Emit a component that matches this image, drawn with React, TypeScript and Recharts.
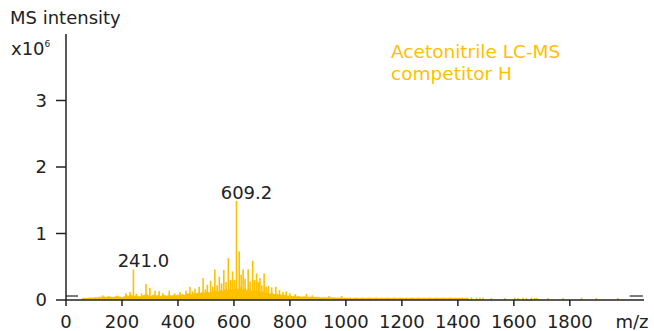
import React from 'react';
import { ComposedChart, Bar, Area, XAxis, YAxis, ReferenceLine, LabelList } from 'recharts';

const gold = '#FFC000';
const ink = '#222222';
const font = '"DejaVu Sans", Verdana, sans-serif';

// noise floor (x10^6), one value every 8 m/z starting at m/z 56
const floorStart = 56;
const floorStep = 8;
const floorLevel = [
  0.02, 0.03, 0.025, 0.03, 0.035, 0.03, 0.04, 0.035, 0.045, 0.04,
  0.05, 0.04, 0.055, 0.045, 0.04, 0.05, 0.06, 0.045, 0.04, 0.05,
  0.07, 0.06, 0.08, 0.05, 0.065, 0.055, 0.05, 0.06, 0.075, 0.09,
  0.065, 0.055, 0.08, 0.06, 0.07, 0.055, 0.065, 0.07, 0.06, 0.075,
  0.065, 0.07, 0.06, 0.08, 0.07, 0.085, 0.07, 0.09, 0.095, 0.08,
  0.1, 0.09, 0.11, 0.1, 0.12, 0.1, 0.12, 0.11, 0.13, 0.12,
  0.13, 0.12, 0.15, 0.13, 0.16, 0.14, 0.17, 0.15, 0.16, 0.18,
  0.16, 0.19, 0.15, 0.17, 0.14, 0.17, 0.13, 0.15, 0.12, 0.14,
  0.11, 0.13, 0.1, 0.11, 0.09, 0.1, 0.085, 0.09, 0.075, 0.08,
  0.07, 0.075, 0.06, 0.065, 0.055, 0.06, 0.05, 0.055, 0.045, 0.05,
  0.05, 0.045, 0.045, 0.04, 0.045, 0.04, 0.04, 0.035, 0.04, 0.035,
  0.035, 0.04, 0.035, 0.035, 0.03, 0.035, 0.03, 0.03, 0.03, 0.03,
  0.03, 0.025, 0.03, 0.03, 0.025, 0.03, 0.03, 0.025, 0.03, 0.03,
  0.025, 0.03, 0.03, 0.025, 0.03, 0.025, 0.03, 0.03, 0.025, 0.03,
  0.03, 0.025, 0.03, 0.03, 0.025, 0.03, 0.025, 0.03, 0.03, 0.025,
  0.03, 0.03, 0.025, 0.03, 0.025, 0.03, 0.03, 0.025, 0.03, 0.03,
  0.025, 0.03, 0.03, 0.025, 0.03, 0.03, 0.025, 0.03, 0.025, 0.03,
  0.03, 0.025, 0.03, 0.02,
];

// individual peaks
const peakMz = [
  131, 214, 229, 241, 252, 270, 286, 300, 318, 333, 346, 369, 388, 407, 429, 443, 452, 461,
  476, 490, 498, 505, 517, 524, 532, 540, 548, 556, 564, 572, 580, 588, 595, 602, 609.2,
  619, 626, 633, 640, 651, 658, 667, 674, 681, 687, 693, 700, 708, 715, 723, 735, 750, 763,
  775, 787, 800, 820, 859, 880, 940, 985,
  1449, 1467, 1479, 1490, 1520, 1568, 1604, 1615, 1633, 1645, 1663, 1675, 1683, 1722, 1776,
  1842, 1895, 1972,
];
const peakInt = [
  0.07, 0.1, 0.12, 0.46, 0.09, 0.1, 0.24, 0.18, 0.14, 0.13, 0.1, 0.14, 0.1, 0.12, 0.14, 0.2, 0.13, 0.17,
  0.2, 0.33, 0.16, 0.23, 0.29, 0.2, 0.46, 0.22, 0.35, 0.25, 0.45, 0.27, 0.63, 0.3, 0.43, 0.3, 1.49,
  0.73, 0.38, 0.46, 0.32, 0.46, 0.28, 0.59, 0.3, 0.4, 0.27, 0.33, 0.22, 0.4, 0.2, 0.21, 0.19, 0.2, 0.15,
  0.12, 0.13, 0.1, 0.09, 0.09, 0.07, 0.06, 0.06,
  0.04, 0.035, 0.035, 0.035, 0.03, 0.03, 0.035, 0.03, 0.035, 0.03, 0.035, 0.03, 0.03, 0.03, 0.03,
  0.035, 0.03, 0.03,
];
const annotatedMz = [241, 609.2];
const annotatedText = ['241.0', '609.2'];

const xTicks = [0, 200, 400, 600, 800, 1000, 1200, 1400, 1600, 1800];
const yTicks = [0, 1, 2, 3];

const floorData = floorLevel.map((v, i) => ({ fmz: floorStart + i * floorStep, v }));
const peakData = peakMz.map((mz, i) => {
  const a = annotatedMz.indexOf(mz);
  return { mz, v: peakInt[i], label: a >= 0 ? annotatedText[a] : '' };
});

const PeakLabel = (props: any) => {
  const { x, y, width, value } = props;
  if (!value) return null;
  return (
    <text x={Number(x) + Number(width) / 2 + 10} y={Number(y) - 2} textAnchor="middle"
      fontSize={18} fontFamily={font} fill={ink}>
      {value}
    </text>
  );
};

export default function App() {
  const axisStyle = { stroke: ink, strokeWidth: 1.5 };
  const tickStyle = { fontSize: 18, fontFamily: font, fill: ink };
  return (
    <div style={{ position: 'fixed', left: 0, top: 0, width: 654, height: 331, background: '#fff' }}>
      <ComposedChart width={654} height={331} data={peakData}
        margin={{ top: 34, right: 10, bottom: 0, left: 0 }}>
        <XAxis xAxisId="f" dataKey="fmz" type="number" domain={[0, 2065]} hide
          orientation="top" height={0} />
        <XAxis xAxisId="m" dataKey="mz" type="number" domain={[0, 2065]} ticks={xTicks}
          height={31} tickSize={6} tickMargin={9} axisLine={axisStyle} tickLine={axisStyle}
          tick={tickStyle} interval={0} />
        <YAxis type="number" domain={[0, 4]} ticks={yTicks} width={66} tickSize={10}
          tickMargin={9} axisLine={axisStyle} tickLine={axisStyle} tick={tickStyle} interval={0} />
        <Area xAxisId="f" data={floorData} dataKey="v" type="linear" stroke={gold}
          strokeWidth={0.6} fill={gold} fillOpacity={1} dot={false} activeDot={false}
          isAnimationActive={false} />
        <Bar xAxisId="m" dataKey="v" fill={gold} barSize={1.6} isAnimationActive={false}>
          <LabelList dataKey="label" content={PeakLabel} />
        </Bar>
        <ReferenceLine xAxisId="m" segment={[{ x: 0, y: 0.06 }, { x: 43, y: 0.06 }]}
          stroke={ink} strokeWidth={1.2} />
        <ReferenceLine xAxisId="m" segment={[{ x: 2014, y: 0.06 }, { x: 2061, y: 0.06 }]}
          stroke={ink} strokeWidth={1.2} />
      </ComposedChart>
      <svg width={654} height={331} style={{ position: 'absolute', left: 0, top: 0, pointerEvents: 'none' }}
        fontFamily={font}>
        <text x={10} y={24} fontSize={18} fill={ink}>MS intensity</text>
        <text x={11} y={55} fontSize={18} fill={ink}>
          x10<tspan fontSize={9} dy={-8.5}>6</tspan>
        </text>
        <text x={632} y={327.5} fontSize={18} fill={ink} textAnchor="middle">m/z</text>
        <text x={391} y={58} fontSize={18.5} fill={gold}>Acetonitrile LC-MS</text>
        <text x={391} y={80} fontSize={18.5} fill={gold}>competitor H</text>
      </svg>
    </div>
  );
}
